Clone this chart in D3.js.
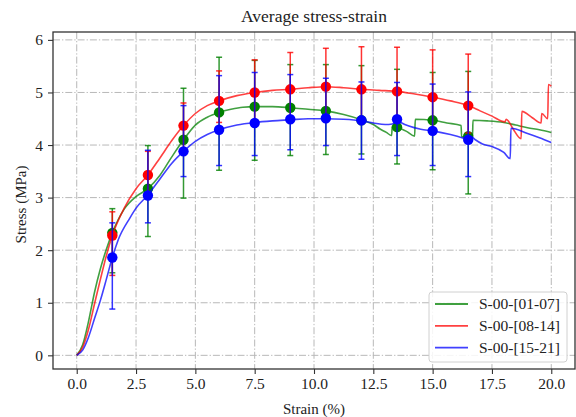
<!DOCTYPE html>
<meta charset="utf-8">
<style>

body {
  margin: 0;
  background: #fff;
}

svg text {
  font-family: "Liberation Serif", "DejaVu Serif", serif !important;
  fill: #222;
}

</style>
<body>
<script src="https://cdn.jsdelivr.net/npm/d3@7/dist/d3.min.js"></script>
<script>

var width = 576,
    height = 417,
    margin = {top: 32, right: 1, bottom: 48, left: 53};

// mean curves (strain %, stress MPa)
var greenStrain = [0, 0.25, 0.5, 0.75, 1.0, 1.25, 1.5, 2.0, 2.5, 3.0, 3.5, 4.0, 4.5, 5.0, 5.5, 6.0, 6.5, 7.0, 7.5, 8.25, 9.0, 9.75, 10.5, 11.25, 12.0, 12.5, 12.8, 13.05, 13.27, 13.3, 13.5, 13.9, 14.24, 14.27, 15.0, 15.6, 16.2, 16.22, 16.68, 16.7, 17.3, 18.0, 18.5, 19.0, 19.5, 20.0],
    greenStress = [0, 0.2, 0.65, 1.2, 1.65, 2.02, 2.33, 2.78, 3.02, 3.17, 3.42, 3.77, 4.1, 4.38, 4.53, 4.62, 4.68, 4.72, 4.73, 4.73, 4.71, 4.68, 4.65, 4.58, 4.48, 4.39, 4.3, 4.24, 4.18, 4.36, 4.34, 4.26, 4.17, 4.49, 4.47, 4.42, 4.37, 4.16, 4.15, 4.47, 4.46, 4.43, 4.38, 4.33, 4.29, 4.24];

var redStrain = [0, 0.25, 0.5, 0.75, 1.0, 1.25, 1.5, 2.0, 2.5, 3.0, 3.5, 4.0, 4.5, 5.0, 5.5, 6.0, 6.75, 7.5, 8.25, 9.0, 9.75, 10.5, 11.25, 12.0, 12.75, 13.5, 14.25, 15.0, 15.75, 16.5, 17.0, 17.5, 18.05, 18.1, 18.2, 18.4, 18.73, 18.76, 19.2, 19.57, 19.6, 19.85, 19.88, 20.0],
    redStress = [0, 0.15, 0.5, 0.98, 1.45, 1.9, 2.28, 2.8, 3.17, 3.43, 3.75, 4.08, 4.37, 4.6, 4.75, 4.84, 4.94, 5.0, 5.04, 5.06, 5.09, 5.11, 5.09, 5.06, 5.04, 5.02, 4.97, 4.91, 4.84, 4.75, 4.65, 4.55, 4.44, 4.49, 4.45, 4.3, 4.12, 4.64, 4.52, 4.42, 4.6, 4.5, 5.15, 5.12];

var blueStrain = [0, 0.25, 0.5, 0.75, 1.0, 1.25, 1.5, 1.75, 2.25, 2.5, 3.0, 3.5, 4.0, 4.5, 5.0, 5.5, 6.0, 6.75, 7.5, 8.25, 9.0, 9.75, 10.5, 11.25, 12.0, 12.5, 13.0, 13.3, 13.5, 13.7, 14.0, 14.5, 15.0, 15.75, 16.3, 16.5, 16.65, 16.8, 17.1, 17.5, 18.0, 18.27, 18.3, 19.0, 19.5, 20.0],
    blueStress = [0, 0.1, 0.35, 0.7, 1.05, 1.45, 1.86, 2.2, 2.62, 2.8, 3.05, 3.35, 3.65, 3.88, 4.07, 4.2, 4.29, 4.38, 4.43, 4.46, 4.48, 4.5, 4.5, 4.49, 4.46, 4.42, 4.39, 4.4, 4.48, 4.42, 4.36, 4.3, 4.27, 4.2, 4.13, 4.1, 4.15, 4.1, 4.02, 3.97, 3.86, 3.74, 4.32, 4.22, 4.14, 4.05];

// marker points and error bar ends
var pointStrain = [1.5, 3, 4.5, 6, 7.5, 9, 10.5, 12, 13.5, 15, 16.5];

var greenMean = [2.33, 3.17, 4.1, 4.62, 4.73, 4.71, 4.65, 4.47, 4.34, 4.47, 4.17],
    greenHigh = [2.79, 3.99, 5.08, 5.67, 5.61, 5.53, 5.53, 5.51, 5.44, 5.38, 5.40],
    greenLow  = [1.57, 2.26, 2.99, 3.52, 3.71, 3.80, 3.82, 3.83, 3.64, 3.53, 3.07];

var redMean = [2.28, 3.43, 4.37, 4.84, 5.0, 5.06, 5.11, 5.06, 5.02, 4.91, 4.75],
    redHigh = [2.73, 3.88, 4.80, 5.41, 5.62, 5.76, 5.84, 5.87, 5.86, 5.81, 5.73],
    redLow  = [1.52, 3.0, 3.93, 4.43, 4.42, 4.47, 4.48, 4.45, 4.48, 4.25, 4.23];

var blueMean = [1.86, 3.04, 3.88, 4.29, 4.42, 4.49, 4.51, 4.47, 4.49, 4.27, 4.1],
    blueHigh = [2.52, 3.90, 4.75, 5.32, 5.38, 5.34, 5.27, 5.20, 5.19, 5.16, 5.01],
    blueLow  = [0.88, 2.52, 3.40, 3.61, 3.80, 3.91, 3.99, 3.73, 3.80, 3.61, 3.40];

var xTicks = [0, 2.5, 5, 7.5, 10, 12.5, 15, 17.5, 20],
    yTicks = [0, 1, 2, 3, 4, 5, 6];

var seriesNames = ["S-00-[01-07]", "S-00-[08-14]", "S-00-[15-21]"],
    seriesColors = ["#008000", "#ff0000", "#0000ff"];

var series = [
  {strain: greenStrain, stress: greenStress, mean: greenMean, high: greenHigh, low: greenLow},
  {strain: redStrain, stress: redStress, mean: redMean, high: redHigh, low: redLow},
  {strain: blueStrain, stress: blueStress, mean: blueMean, high: blueHigh, low: blueLow}
];

var x = d3.scaleLinear()
    .domain([-1, 21])
    .range([margin.left, width - margin.right]);

var y = d3.scaleLinear()
    .domain([-0.26, 6.15])
    .range([height - margin.bottom, margin.top]);

var svg = d3.select("body").append("svg")
    .attr("width", width)
    .attr("height", height);

// grid
var grid = svg.append("g")
    .attr("stroke", "#b8b8b8")
    .attr("stroke-width", 1)
    .attr("stroke-dasharray", "7,2,1.3,2");

grid.selectAll(".gx")
    .data(xTicks)
  .enter().append("line")
    .attr("x1", function(d) { return x(d); })
    .attr("x2", function(d) { return x(d); })
    .attr("y1", margin.top)
    .attr("y2", height - margin.bottom);

grid.selectAll(".gy")
    .data(yTicks)
  .enter().append("line")
    .attr("y1", function(d) { return y(d); })
    .attr("y2", function(d) { return y(d); })
    .attr("x1", margin.left)
    .attr("x2", width - margin.right);

var line = d3.line()
    .x(function(d) { return x(d[0]); })
    .y(function(d) { return y(d[1]); })
    .curve(d3.curveMonotoneX);

series.forEach(function(s, i) {
  var color = seriesColors[i];

  svg.append("path")
      .datum(s.strain.map(function(v, j) { return [v, s.stress[j]]; }))
      .attr("fill", "none")
      .attr("stroke", color)
      .attr("stroke-opacity", 0.75)
      .attr("stroke-width", 1.6)
      .attr("d", line);

  var bars = svg.append("g")
      .attr("stroke", color)
      .attr("stroke-opacity", 0.8)
      .attr("stroke-width", 1.5);

  pointStrain.forEach(function(px, j) {
    var cx = x(px);
    bars.append("line")
        .attr("x1", cx).attr("x2", cx)
        .attr("y1", y(s.low[j])).attr("y2", y(s.high[j]));
    [s.low[j], s.high[j]].forEach(function(v) {
      bars.append("line")
          .attr("x1", cx - 3).attr("x2", cx + 3)
          .attr("y1", y(v)).attr("y2", y(v));
    });
  });

  svg.append("g").selectAll("circle")
      .data(pointStrain)
    .enter().append("circle")
      .attr("cx", function(d) { return x(d); })
      .attr("cy", function(d, j) { return y(s.mean[j]); })
      .attr("r", 5.2)
      .attr("fill", color);
});

// axes
var xAxis = svg.append("g")
    .attr("transform", "translate(0," + (height - margin.bottom) + ")")
    .call(d3.axisBottom(x).tickValues(xTicks).tickFormat(d3.format(".1f")).tickSizeOuter(0).tickSize(5).tickPadding(4));

var yAxis = svg.append("g")
    .attr("transform", "translate(" + margin.left + ",0)")
    .call(d3.axisLeft(y).tickValues(yTicks).tickFormat(d3.format("d")).tickSizeOuter(0).tickSize(5).tickPadding(5));

[xAxis, yAxis].forEach(function(a) {
  a.attr("font-family", null).attr("font-size", null);
  a.select(".domain").remove();
  a.selectAll(".tick line").attr("stroke", "#333").attr("stroke-width", 1.1);
  a.selectAll(".tick text")
      .style("font-family", "'Liberation Serif', serif")
      .style("font-size", "15.5px")
      .attr("fill", "#222");
});

svg.append("rect")
    .attr("x", margin.left)
    .attr("y", margin.top)
    .attr("width", width - margin.right - margin.left)
    .attr("height", height - margin.bottom - margin.top)
    .attr("fill", "none")
    .attr("stroke", "#333")
    .attr("stroke-width", 1.3);

svg.append("text")
    .attr("x", (margin.left + width - margin.right) / 2)
    .attr("y", 22)
    .attr("text-anchor", "middle")
    .attr("font-size", 17.5)
    .text("Average stress-strain");

svg.append("text")
    .attr("x", (margin.left + width - margin.right) / 2)
    .attr("y", 414)
    .attr("text-anchor", "middle")
    .attr("font-size", 15)
    .text("Strain (%)");

svg.append("text")
    .attr("transform", "translate(26," + ((margin.top + height - margin.bottom) / 2 + 4) + ")rotate(-90)")
    .attr("text-anchor", "middle")
    .attr("font-size", 15)
    .text("Stress (MPa)");

// legend
var legend = svg.append("g")
    .attr("transform", "translate(429,292)");

legend.append("rect")
    .attr("width", 138)
    .attr("height", 70)
    .attr("rx", 3)
    .attr("fill", "#fff")
    .attr("fill-opacity", 0.85)
    .attr("stroke", "#d0d0d0");

seriesNames.forEach(function(name, i) {
  var ly = 12 + i * 21.8;
  legend.append("line")
      .attr("x1", 6).attr("x2", 39)
      .attr("y1", ly).attr("y2", ly)
      .attr("stroke", seriesColors[i])
      .attr("stroke-opacity", 0.75)
      .attr("stroke-width", 1.8);
  legend.append("text")
      .attr("x", 50)
      .attr("y", ly + 5)
      .attr("font-size", 15.5)
      .text(name);
});

</script>
